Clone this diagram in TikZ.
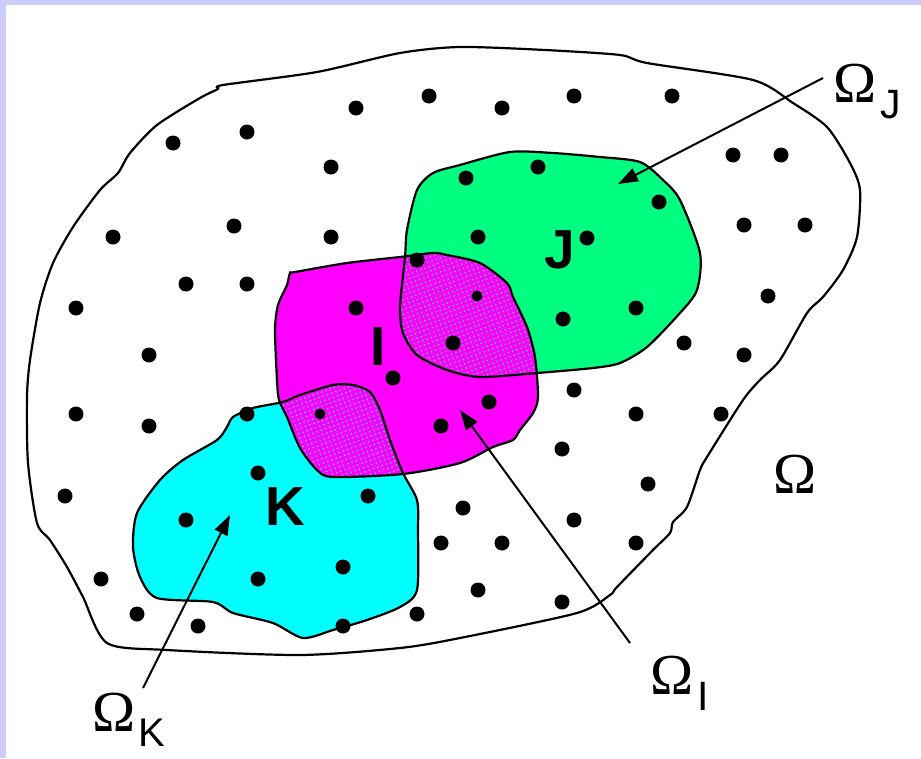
\documentclass[tikz,border=0pt]{standalone}
\usepackage{fontspec}
\setmainfont{Liberation Serif}
\newfontfamily\arialfont{Liberation Sans}
\usetikzlibrary{arrows.meta,patterns.meta}
\definecolor{framelav}{HTML}{CCCCFF}
\definecolor{jgreen}{HTML}{00FF80}
\definecolor{kcyan}{HTML}{00FFFF}
\definecolor{imag}{HTML}{FF00FF}

\def\OmegaPath{plot[smooth cycle,tension=0.45] coordinates {(460,47) (545,50) (620,55) (647,63) (753,80) (793,103) (827,127) (850,163) (860,190) (857,237) (843,270) (823,297) (807,313) (780,360) (760,380) (743,400) (707,457) (700,470) (687,507) (673,522) (670,533) (653,550) (617,587) (610,595) (577,613) (460,638) (400,648) (300,655) (167,650) (107,643) (83,597) (67,567) (50,540) (37,523) (28,463) (27,397) (30,360) (40,303) (53,263) (73,227) (100,190) (118,173) (130,153) (157,125) (200,98) (218,89) (223,85) (317,72) (400,53)}}
\def\JPath{plot[smooth cycle,tension=0.45] coordinates {(417,190) (433,173) (460,165) (510,152) (553,153) (600,157) (640,162) (663,180) (680,200) (700,253) (697,290) (680,313) (647,347) (620,363) (593,368) (537,373) (480,377) (447,370) (417,355) (403,333) (400,307) (405,257) (407,230)}}
\def\IPath{plot[smooth cycle,tension=0.45] coordinates {(290,273) (295,272) (347,263) (400,257) (433,253) (447,255) (480,263) (507,283) (513,297) (527,327) (535,357) (538,397) (533,413) (520,430) (513,440) (493,447) (460,463) (403,474) (333,477) (317,470) (300,448) (287,417) (279,400) (277,380) (275,330) (278,305) (287,285)}}
\def\KPath{plot[smooth cycle,tension=0.45] coordinates {(227,427) (233,417) (253,408) (283,402) (300,395) (333,385) (353,385) (370,392) (380,410) (390,440) (403,473) (417,500) (418,530) (417,590) (400,607) (367,620) (333,630) (303,638) (273,623) (233,613) (213,602) (157,598) (140,577) (133,547) (137,513) (160,480) (183,460) (217,440)}}

\begin{document}
\begin{tikzpicture}[x=1pt,y=-1pt,
  outline/.style={line width=2.2pt,draw=black},
  dotnode/.style={circle,fill=black,inner sep=0pt,minimum size=15pt},
  smalldot/.style={circle,fill=black,inner sep=0pt,minimum size=11pt},
  pointer/.style={line width=2pt,-{Triangle[length=20pt,width=14pt]}},
  omegalabel/.style={anchor=base west,inner sep=0pt,font=\fontsize{58}{58}\selectfont},
  regionlabel/.style={anchor=base,inner sep=0pt,font=\arialfont\bfseries\fontsize{55}{55}\selectfont}
]
\useasboundingbox (0,0) rectangle (921,758);
\fill[white] (0,0) rectangle (921,758);
\fill[framelav] (0,0) rectangle (921,5);
\fill[framelav] (0,0) rectangle (6,758);

% outer domain
\draw[outline] \OmegaPath;

% regions
\fill[kcyan] \KPath;
\fill[jgreen] \JPath;
\fill[imag] \IPath;
\begin{scope}
  \clip \IPath;
  \fill[pattern={Dots[radius=0.9pt,distance=4.5pt,angle=20]},pattern color=jgreen] \JPath;
  \fill[pattern={Dots[radius=0.9pt,distance=4.5pt,angle=20]},pattern color=kcyan] \KPath;
\end{scope}
\draw[outline] \KPath;
\draw[outline] \JPath;
\draw[outline] \IPath;

% points
\foreach \p [count=\i] in {(429,96),(502,108),(574,96),(672,96),(356,108),(247,132),(173,143),
  (331,167),(466,178),(538,167),(659,202),(733,155),(781,155),
  (113,237),(234,226),(331,237),(478,237),(587,238),(744,225),(805,225),
  (186,284),(247,284),(76,308),(356,308),(768,296),(563,319),(636,308),
  (149,355),(684,343),(744,355),(393,378),(574,390),
  (76,414),(149,426),(247,414),(636,414),(721,414),(441,426),(489,402),(562,449),
  (65,496),(258,473),(368,496),(463,508),(648,484),
  (186,520),(574,520),(441,543),(502,543),(636,543),
  (343,567),(101,579),(258,579),(137,614),(198,626),(343,626),(417,614),(478,590),(562,602),
  (417,260),(453,343)}
  \node[dotnode] (d\i) at \p {};
\node[smalldot] (ov1) at (477,296) {};
\node[smalldot] (ov2) at (320,414) {};

% region letters
\node[regionlabel] (lI) at (378,365) {I};
\node[regionlabel] (lJ) at (560,268) {J};
\node[regionlabel] (lK) at (285,525) {K};

% Omega labels
\node[omegalabel] (OmJ) at (833,102) {Ω\hspace{4pt}\raisebox{-16pt}{\arialfont\fontsize{41}{41}\selectfont J}};
\node[omegalabel] (OmI) at (650,694) {Ω\hspace{4pt}\raisebox{-16pt}{\arialfont\fontsize{41}{41}\selectfont I}};
\node[omegalabel] (OmK) at (92,731) {Ω\hspace{3pt}\raisebox{-15pt}{\arialfont\fontsize{40}{40}\selectfont K}};
\node[omegalabel] (Om) at (773,493) {Ω};

% arrows
\coordinate (aJs) at (823,78);
\coordinate (aJe) at (618,184);
\coordinate (aIs) at (630,643);
\coordinate (aIe) at (460,410);
\coordinate (aKs) at (143,688);
\coordinate (aKe) at (230,515);
\draw[pointer] (aJs) -- (aJe);
\draw[pointer] (aIs) -- (aIe);
\draw[pointer] (aKs) -- (aKe);
\end{tikzpicture}
\end{document}
